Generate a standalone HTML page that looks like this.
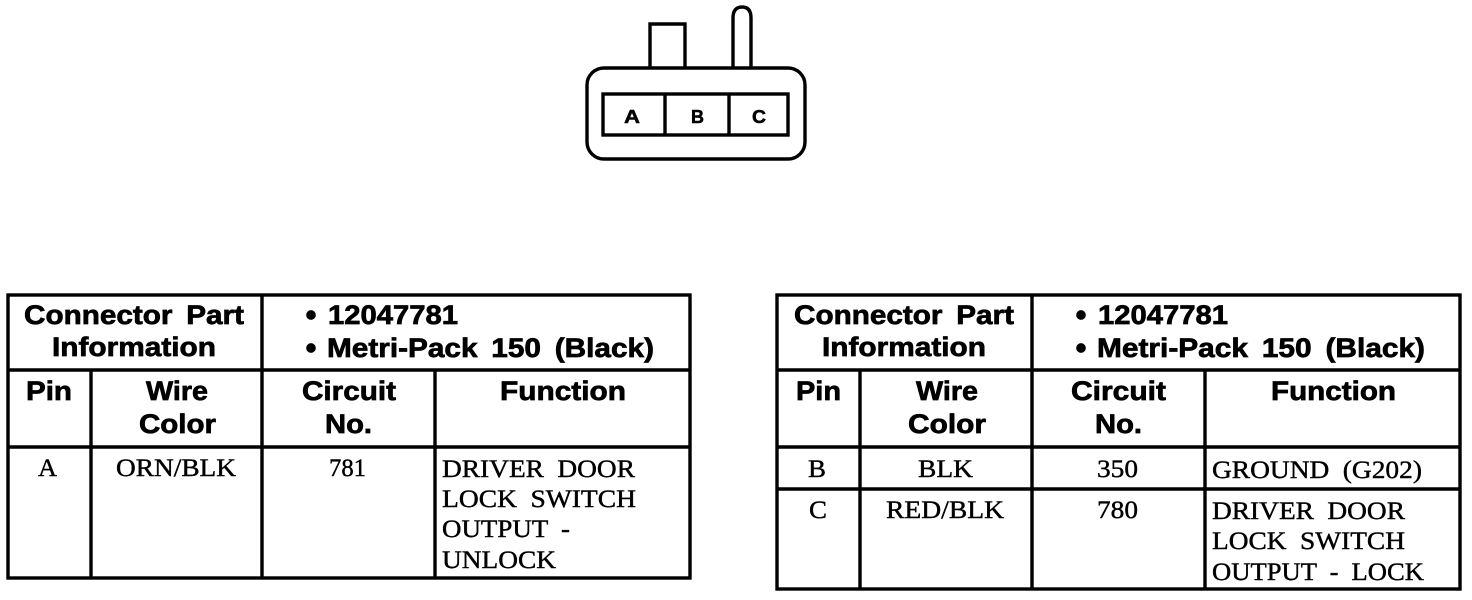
<!DOCTYPE html>
<html><head><meta charset="utf-8"><style>
html,body{margin:0;padding:0;background:#fff}
svg{display:block}
.h{font:bold 27px "Liberation Sans",sans-serif;fill:#000;stroke:#000;stroke-width:.7;word-spacing:5px}
.c{font:25px "Liberation Serif",serif;fill:#000;stroke:#000;stroke-width:.4;word-spacing:6px}
.l{stroke:#000;stroke-width:3.4;fill:none}
.k{font:bold 18px "Liberation Sans",sans-serif;fill:#000;stroke:#000;stroke-width:.5}
</style></head><body>
<svg width="1472" height="600" viewBox="0 0 1472 600" xmlns="http://www.w3.org/2000/svg">
<rect x="587" y="68" width="218" height="91" rx="17" class="l"/>
<rect x="603" y="94" width="185" height="41" class="l"/>
<path d="M665 94V135M729 94V135" class="l"/>
<path d="M650 67V24H685V67" class="l"/>
<path d="M733 67V18Q733 7 742 7Q751 7 751 18V67" class="l"/>
<text x="624" y="123" class="k" textLength="16" lengthAdjust="spacingAndGlyphs">A</text>
<text x="691" y="123" class="k" textLength="13" lengthAdjust="spacingAndGlyphs">B</text>
<text x="752" y="123" class="k" textLength="14" lengthAdjust="spacingAndGlyphs">C</text>

<rect x="8" y="295" width="682" height="283" class="l"/>
<path d="M8 370H690M8 447H690M262 295V578M91 370V578M435 370V578" class="l"/>
<g class="h">
<text x="24" y="324" textLength="220" lengthAdjust="spacingAndGlyphs">Connector Part</text>
<text x="52" y="356" textLength="164" lengthAdjust="spacingAndGlyphs">Information</text>
<circle cx="311" cy="315" r="4.5"/><circle cx="311" cy="348" r="4.5"/>
<text x="328" y="324" textLength="130" lengthAdjust="spacingAndGlyphs">12047781</text>
<text x="327" y="357" textLength="327" lengthAdjust="spacingAndGlyphs">Metri-Pack 150 (Black)</text>
<text x="26" y="400" textLength="46" lengthAdjust="spacingAndGlyphs">Pin</text>
<text x="146" y="400" textLength="62" lengthAdjust="spacingAndGlyphs">Wire</text>
<text x="139" y="433" textLength="77" lengthAdjust="spacingAndGlyphs">Color</text>
<text x="302" y="400" textLength="94" lengthAdjust="spacingAndGlyphs">Circuit</text>
<text x="325" y="433" textLength="47" lengthAdjust="spacingAndGlyphs">No.</text>
<text x="500" y="400" textLength="126" lengthAdjust="spacingAndGlyphs">Function</text>
</g>
<g class="c">
<text x="38" y="476" textLength="19" lengthAdjust="spacingAndGlyphs">A</text>
<text x="116" y="476" textLength="120" lengthAdjust="spacingAndGlyphs">ORN/BLK</text>
<text x="329" y="476" textLength="37" lengthAdjust="spacingAndGlyphs">781</text>
<text x="442" y="477" textLength="193" lengthAdjust="spacingAndGlyphs">DRIVER DOOR</text>
<text x="442" y="507" textLength="194" lengthAdjust="spacingAndGlyphs">LOCK SWITCH</text>
<text x="442" y="537" textLength="128" lengthAdjust="spacingAndGlyphs">OUTPUT -</text>
<text x="442" y="568" textLength="114" lengthAdjust="spacingAndGlyphs">UNLOCK</text>
</g>

<rect x="777" y="295" width="683" height="294" class="l"/>
<path d="M777 370H1460M777 447H1460M777 489H1460M1032 295V589M860 370V589M1205 370V589" class="l"/>
<g class="h">
<text x="794" y="324" textLength="220" lengthAdjust="spacingAndGlyphs">Connector Part</text>
<text x="822" y="356" textLength="164" lengthAdjust="spacingAndGlyphs">Information</text>
<circle cx="1081" cy="315" r="4.5"/><circle cx="1081" cy="348" r="4.5"/>
<text x="1098" y="324" textLength="130" lengthAdjust="spacingAndGlyphs">12047781</text>
<text x="1097" y="357" textLength="328" lengthAdjust="spacingAndGlyphs">Metri-Pack 150 (Black)</text>
<text x="796" y="400" textLength="45" lengthAdjust="spacingAndGlyphs">Pin</text>
<text x="916" y="400" textLength="62" lengthAdjust="spacingAndGlyphs">Wire</text>
<text x="908" y="433" textLength="78" lengthAdjust="spacingAndGlyphs">Color</text>
<text x="1071" y="400" textLength="95" lengthAdjust="spacingAndGlyphs">Circuit</text>
<text x="1095" y="433" textLength="47" lengthAdjust="spacingAndGlyphs">No.</text>
<text x="1271" y="400" textLength="125" lengthAdjust="spacingAndGlyphs">Function</text>
</g>
<g class="c">
<text x="808" y="477" textLength="18" lengthAdjust="spacingAndGlyphs">B</text>
<text x="918" y="477" textLength="55" lengthAdjust="spacingAndGlyphs">BLK</text>
<text x="1097" y="477" textLength="41" lengthAdjust="spacingAndGlyphs">350</text>
<text x="1212" y="478" textLength="210" lengthAdjust="spacingAndGlyphs">GROUND (G202)</text>
<text x="809" y="518" textLength="18" lengthAdjust="spacingAndGlyphs">C</text>
<text x="886" y="518" textLength="118" lengthAdjust="spacingAndGlyphs">RED/BLK</text>
<text x="1097" y="518" textLength="41" lengthAdjust="spacingAndGlyphs">780</text>
<text x="1212" y="519" textLength="193" lengthAdjust="spacingAndGlyphs">DRIVER DOOR</text>
<text x="1212" y="549" textLength="193" lengthAdjust="spacingAndGlyphs">LOCK SWITCH</text>
<text x="1212" y="580" textLength="212" lengthAdjust="spacingAndGlyphs">OUTPUT - LOCK</text>
</g>
</svg>
</body></html>
